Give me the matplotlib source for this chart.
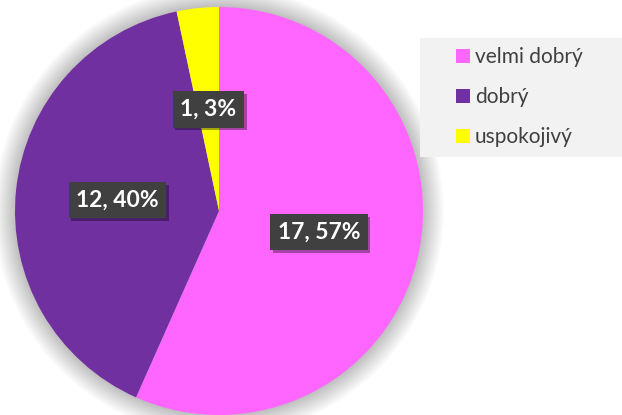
import math

import matplotlib.pyplot as plt
import matplotlib.patheffects as pe
from matplotlib.patches import Circle, Rectangle

categories = ['velmi dobrý', 'dobrý', 'uspokojivý']
counts = [17, 12, 1]
colors = ['#FF66FF', '#7030A0', '#FFFF00']

plt.rcParams['font.family'] = ['Lato', 'DejaVu Sans']

fig = plt.figure(figsize=(6.22, 4.15), dpi=100)
ax = fig.add_axes([0, 0, 1, 1])

cx, cy, r = 219, 204, 204

# soft shadow round the pie
for k in range(1, 22):
    ax.add_patch(Circle((cx, cy), r + k, color='#000000', alpha=0.012, lw=0, zorder=0))

total = sum(counts)

wedges, texts = ax.pie(counts, colors=colors, startangle=90, counterclock=False,
                       center=(cx, cy), radius=r, frame=True,
                       wedgeprops=dict(linewidth=0))
ax.set_xlim(0, 622)
ax.set_ylim(0, 415)
ax.set_aspect('equal')
ax.axis('off')

# labels at half radius
for w, n in zip(wedges, counts):
    mid = math.radians((w.theta1 + w.theta2) / 2)
    x = cx + 0.5 * r * math.cos(mid)
    y = cy + 0.5 * r * math.sin(mid)
    label = '{}, {:.0f}%'.format(n, n / total * 100)
    t = ax.text(x, y, label, ha='center', va='center', fontsize=16.5,
                fontweight='bold', color='white', zorder=4,
                bbox=dict(boxstyle='square,pad=0.33', fc='#404040', ec='none'))
    t.get_bbox_patch().set_path_effects([
        pe.SimplePatchShadow(offset=(2, -2), shadow_rgbFace='black', alpha=0.35),
        pe.Normal()])

# legend box
ax.add_patch(Rectangle((420, 415 - 157), 210, 119, fc='#F2F2F2', ec='none', zorder=1))
leg = ax.legend(wedges, categories, loc='center left', bbox_to_anchor=(0.733, 0.766),
                frameon=False, fontsize=15, handlelength=0.67, handleheight=0.67,
                handletextpad=0.25, labelspacing=0.95, borderpad=0, borderaxespad=0)
for t in leg.get_texts():
    t.set_color('#404040')

fig.savefig('out.png', dpi=100)
